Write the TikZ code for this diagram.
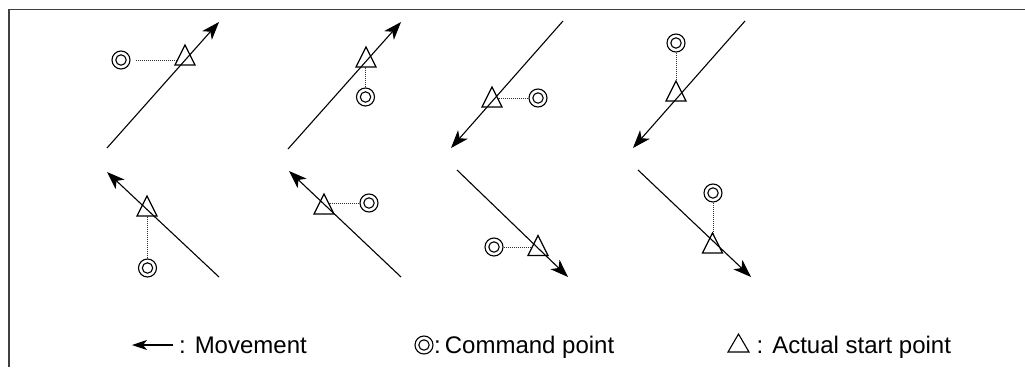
\documentclass[tikz,border=0pt]{standalone}
\usepackage{fontspec}
\setmainfont{Liberation Sans}
\usetikzlibrary{arrows.meta}
\begin{document}
\begin{tikzpicture}[x=1pt,y=-1pt,
  mv/.style={line width=1.1pt,-{Stealth[length=18pt,width=13pt,inset=5pt]}},
  dotl/.style={line width=0.8pt,dash pattern=on 1pt off 1pt,black!80},
  cmd/.style={circle,draw,line width=1.1pt,minimum size=18pt,inner sep=0pt,
    path picture={\draw[line width=1.1pt] (path picture bounding box.center) circle (5.2pt);}},
  tripic/.pic={\draw[line width=1.2pt,line join=miter] (0,-10) -- (10,10) -- (-10,10) -- cycle;},
  legtri/.pic={\draw[line width=1.1pt,line join=miter] (0,-9) -- (10.5,9) -- (-10.5,9) -- cycle;},
  lbl/.style={anchor=base west,inner sep=0pt,font=\fontsize{24}{28}\selectfont}]
\useasboundingbox (0,0) rectangle (1025,367);
% frame
\draw[line width=1.4pt,black!75] (9,367) -- (9,9.5) -- (1025,9.5);

% Panel 1
\coordinate (s1) at (107,148); \coordinate (e1) at (219,22);
\coordinate (t1) at (185,55); \coordinate (d1) at (177,60);
\node[cmd] (c1) at (121,60) {};
\draw[mv] (s1) -- (e1);
\pic at (t1) {tripic};
\draw[dotl,shorten <=5pt] (c1) -- (d1);

% Panel 2
\coordinate (s2) at (288,149); \coordinate (e2) at (401,22);
\coordinate (t2) at (366,57); \coordinate (d2) at (365.5,67);
\node[cmd] (c2) at (365.5,97) {};
\draw[mv] (s2) -- (e2);
\pic at (t2) {tripic};
\draw[dotl] (c2) -- (d2);

% Panel 3
\coordinate (s3) at (563,21); \coordinate (e3) at (451,148);
\coordinate (t3) at (492,97); \coordinate (d3) at (498,98);
\node[cmd] (c3) at (538,98) {};
\draw[mv] (s3) -- (e3);
\pic at (t3) {tripic};
\draw[dotl] (c3) -- (d3);

% Panel 4
\coordinate (s4) at (745,21); \coordinate (e4) at (633,148);
\coordinate (t4) at (676,91); \coordinate (d4) at (676,81);
\node[cmd] (c4) at (676,43) {};
\draw[mv] (s4) -- (e4);
\pic at (t4) {tripic};
\draw[dotl] (c4) -- (d4);

% Panel 5
\coordinate (s5) at (219,277); \coordinate (e5) at (107,172);
\coordinate (t5) at (147,206); \coordinate (d5) at (147.5,216);
\node[cmd] (c5) at (147.5,268) {};
\draw[mv] (s5) -- (e5);
\pic at (t5) {tripic};
\draw[dotl] (c5) -- (d5);

% Panel 6
\coordinate (s6) at (401,277); \coordinate (e6) at (289,171);
\coordinate (t6) at (324,204); \coordinate (d6) at (329,203);
\node[cmd] (c6) at (369,203) {};
\draw[mv] (s6) -- (e6);
\pic at (t6) {tripic};
\draw[dotl] (c6) -- (d6);

% Panel 7
\coordinate (s7) at (457,170); \coordinate (e7) at (568,277);
\coordinate (t7) at (538,245.5); \coordinate (d7) at (532,247);
\node[cmd] (c7) at (494,247) {};
\draw[mv] (s7) -- (e7);
\pic at (t7) {tripic};
\draw[dotl] (c7) -- (d7);

% Panel 8
\coordinate (s8) at (638,170); \coordinate (e8) at (751,277);
\coordinate (t8) at (712.5,243); \coordinate (d8) at (713,233);
\node[cmd] (c8) at (713,193) {};
\draw[mv] (s8) -- (e8);
\pic at (t8) {tripic};
\draw[dotl] (c8) -- (d8);

% Legend
\coordinate (la) at (173,345); \coordinate (lb) at (132,345);
\draw[mv,-{Stealth[length=15pt,width=10pt,inset=4pt]}] (la) -- (lb);
\node[lbl] (l1) at (179,353) {: Movement};
\node[cmd] (lc) at (424,345) {};
\node[lbl] (l2) at (434,353) {:\,Command point};
\coordinate (lt) at (738.5,343);
\pic at (lt) {legtri};
\node[lbl] (l3) at (756.5,353) {: Actual start point};
\end{tikzpicture}
\end{document}
